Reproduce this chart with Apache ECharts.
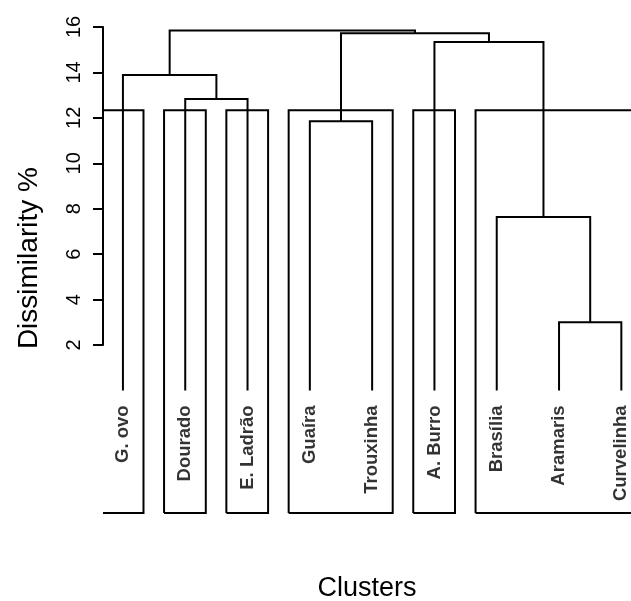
<!DOCTYPE html>
<html>
<head>
<meta charset="utf-8">
<script src="https://cdn.jsdelivr.net/npm/echarts@6/dist/echarts.min.js"></script>
<style>
  html, body { margin: 0; background: #fff; }
  #chart { width: 631px; height: 601px; }
</style>
</head>
<body>
<div id="chart"></div>
<script>
// leaves in plotting order
const leaves = ['G. ovo', 'Dourado', 'E. Ladrão', 'Guaíra', 'Trouxinha', 'A. Burro', 'Brasília', 'Aramaris', 'Curvelinha']
// merge steps like R hclust: negative = leaf number, positive = earlier step
const mergeLeft = [-8, -7, -4, -2, -1, -6, 3, 5]
const mergeRight = [-9, 1, -5, -3, 4, 2, 6, 7]
const mergeHeight = [3.0, 7.63, 11.85, 12.83, 13.89, 15.34, 15.72, 15.85]
// rect.hclust groups (k = 6), sizes in leaf order
const clusterSizes = [1, 1, 1, 2, 1, 3]
const yTicks = [2, 4, 6, 8, 10, 12, 14, 16]
const rectBottom = -5.4

const FONT = 'Arial, "Liberation Sans", sans-serif'
const pxPerUnit = 318 / 14

// plot region (the right part is cut off by the picture edge)
const xMin = 0.68
const xMax = 9.155
const yMin = -5.5
const yTop = 17.15
const yMax = yTicks[yTicks.length - 1]

// x position / height of every node
const nodeX = []
const nodeH = []
function pos(ref) {
  if (ref < 0) return [-ref, 0]
  return [nodeX[ref - 1], nodeH[ref - 1]]
}
const branchData = []
mergeHeight.forEach((h, i) => {
  const [xl, hl] = pos(mergeLeft[i])
  const [xr, hr] = pos(mergeRight[i])
  nodeX.push((xl + xr) / 2)
  nodeH.push(h)
  branchData.push({ coords: [[xl, hl], [xl, h], [xr, h], [xr, hr]] })
})

// cluster boxes, same rule as rect.hclust; a side outside the plot region is dropped
const k = clusterSizes.length
const sortedH = mergeHeight.slice().sort((a, b) => b - a)
const cutH = (sortedH[k - 2] + sortedH[k - 1]) / 2
const rectData = []
let acc = 0
clusterSizes.forEach((n) => {
  const l = acc + 0.66
  acc += n
  const r = acc + 0.33
  if (l < xMin) {
    rectData.push({ coords: [[xMin, cutH], [r, cutH], [r, rectBottom], [xMin, rectBottom]] })
  } else {
    rectData.push({ coords: [[l, rectBottom], [l, cutH], [r, cutH], [r, rectBottom], [l, rectBottom]] })
  }
})

const chart = echarts.init(document.getElementById('chart'))
chart.setOption({
  animation: false,
  grid: [
    { left: 103, top: 27 - (yTop - yMax) * pxPerUnit, width: 528, height: (yTop - yMin) * pxPerUnit, outerBoundsMode: 'none' },
    { left: 103, top: 27, width: 528, height: (yMax - yTicks[0]) * pxPerUnit, outerBoundsMode: 'none' },
  ],
  xAxis: [
    {
      gridIndex: 0, type: 'value', min: xMin, max: xMax,
      axisLine: { show: false }, axisTick: { show: false }, axisLabel: { show: false }, splitLine: { show: false },
      name: 'Clusters', nameLocation: 'middle', nameGap: 60,
      nameTextStyle: { fontFamily: FONT, fontSize: 27, color: '#000' },
    },
    { gridIndex: 1, type: 'value', show: false, min: xMin, max: xMax },
  ],
  yAxis: [
    {
      gridIndex: 0, type: 'value', min: yMin, max: yTop,
      axisLine: { show: false }, axisTick: { show: false }, axisLabel: { show: false }, splitLine: { show: false },
      name: 'Dissimilarity %', nameLocation: 'middle', nameGap: 60, nameRotate: 90,
      nameTextStyle: { fontFamily: FONT, fontSize: 28, color: '#000' },
    },
    {
      gridIndex: 1, type: 'value', min: yTicks[0], max: yMax, interval: 2,
      axisLine: { show: true, lineStyle: { color: '#000', width: 2 } },
      axisTick: { show: true, length: 10, lineStyle: { color: '#000', width: 2 } },
      axisLabel: { rotate: 90, margin: 19, fontFamily: FONT, fontSize: 20, color: '#000' },
      splitLine: { show: false },
    },
  ],
  series: [
    {
      type: 'lines', coordinateSystem: 'cartesian2d', xAxisIndex: 0, yAxisIndex: 0,
      polyline: true, clip: true, silent: true,
      lineStyle: { color: '#000', width: 2, opacity: 1 },
      data: branchData,
    },
    {
      type: 'lines', coordinateSystem: 'cartesian2d', xAxisIndex: 0, yAxisIndex: 0,
      polyline: true, clip: true, silent: true,
      lineStyle: { color: '#000', width: 2, opacity: 1 },
      data: rectData,
    },
    {
      type: 'scatter', xAxisIndex: 0, yAxisIndex: 0, symbolSize: 0, silent: true,
      data: leaves.map((name, i) => ({ name, value: [i + 1, 0] })),
      label: {
        show: true, position: 'bottom', distance: 15, rotate: 90,
        align: 'right', verticalAlign: 'middle',
        formatter: '{b}', fontFamily: FONT, fontSize: 18.5, fontWeight: 'bold', color: '#000',
      },
    },
  ],
})
</script>
</body>
</html>
